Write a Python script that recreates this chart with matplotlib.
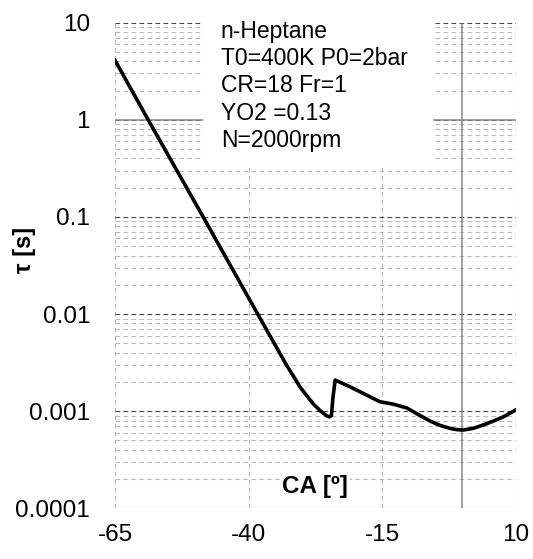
import numpy as np
import matplotlib
matplotlib.use("Agg")
import matplotlib.pyplot as plt
from matplotlib.patches import Rectangle
from matplotlib.ticker import FixedLocator, FixedFormatter, LogLocator, NullFormatter

plt.rcParams['font.family'] = ['Liberation Sans', 'DejaVu Sans']
plt.rcParams['axes.unicode_minus'] = False

# ignition delay vs crank angle
ca = [-65, -58.8, -48.5, -38.3, -32.9, -31.6, -30.4, -29.1, -27.9, -26.5,
      -25.3, -24.9, -24.5, -24.2, -23.8, -21.0, -19.1, -17.2, -15.4, -12.9,
      -10.4, -8.2, -6.0, -4.2, -2.3, -1.0, 0.2, 2.0, 3.9, 5.8, 7.7, 10]
tau = [4.1, 1.0, 0.1, 0.0100, 0.00298, 0.00229, 0.00178, 0.00144, 0.00119, 0.00100,
       0.00089, 0.000875, 0.00090, 0.00140, 0.00209, 0.00178, 0.00158, 0.00140,
       0.00125, 0.00118, 0.00108, 0.00092, 0.000790, 0.000715, 0.000665,
       0.000645, 0.00064, 0.000665, 0.00072, 0.00079, 0.000875, 0.00103]

xticks = [-65, -40, -15, 10]
yticks = [1e-4, 1e-3, 1e-2, 1e-1, 1, 10]
ytick_labels = ["0.0001", "0.001", "0.01", "0.1", "1", "10"]

info_lines = ["n-Heptane", "T0=400K P0=2bar", "CR=18 Fr=1", "YO2 =0.13", "N=2000rpm"]

fig = plt.figure(figsize=(5.33, 5.59), dpi=100)
ax = fig.add_axes([0.2158, 0.0907, 0.7518, 0.8687])

ax.set_yscale('log')
ax.set_xlim(-65, 10)
ax.set_ylim(1e-4, 10)

ax.xaxis.set_major_locator(FixedLocator(xticks))
ax.yaxis.set_major_locator(FixedLocator(yticks))
ax.yaxis.set_major_formatter(FixedFormatter(ytick_labels))
ax.yaxis.set_minor_locator(LogLocator(base=10, subs=np.arange(2, 10)))
ax.yaxis.set_minor_formatter(NullFormatter())

ax.tick_params(axis='both', which='both', length=0, labelsize=17.5)
ax.tick_params(axis='y', pad=18)
ax.tick_params(axis='x', pad=11)

for s in ax.spines.values():
    s.set_visible(False)

dash = (0, (4.2, 3))
ax.grid(True, axis='y', which='major', color='#444444', lw=0.8, linestyle=dash, zorder=0)
ax.grid(True, axis='y', which='minor', color='#bbbbbb', lw=0.8, linestyle=dash, zorder=0)
ax.grid(True, axis='x', which='major', color='#bbbbbb', lw=0.8, linestyle=dash, zorder=0)
ax.set_axisbelow(True)

ax.axhline(1, color='#888888', lw=1.1, zorder=1)
ax.axvline(0, color='#888888', lw=1.1, zorder=1)

# white panel behind the operating conditions
ax.add_patch(Rectangle((0.2196, 0.707), 0.574, 0.3, transform=ax.transAxes,
                       facecolor='white', edgecolor='none', zorder=2, clip_on=False))
for i, line in enumerate(info_lines):
    ax.text(0.2638, 0.9679 - i * 0.0558, line, transform=ax.transAxes,
            fontsize=16.5, ha='left', va='baseline', zorder=3)

ax.plot(ca, tau, color='black', lw=2.6, zorder=4, solid_joinstyle='round')

ax.text(0.5, 0.044, "CA [º]", transform=ax.transAxes, ha='center', va='center',
        fontsize=17.5, fontweight='bold', zorder=3,
        bbox=dict(facecolor='white', edgecolor='none', pad=1))
fig.text(25 / 533, 1 - 250 / 559, "τ [s]", rotation=90, ha='center', va='center',
         fontsize=17, fontweight='bold')

fig.savefig("out.png", dpi=100)
